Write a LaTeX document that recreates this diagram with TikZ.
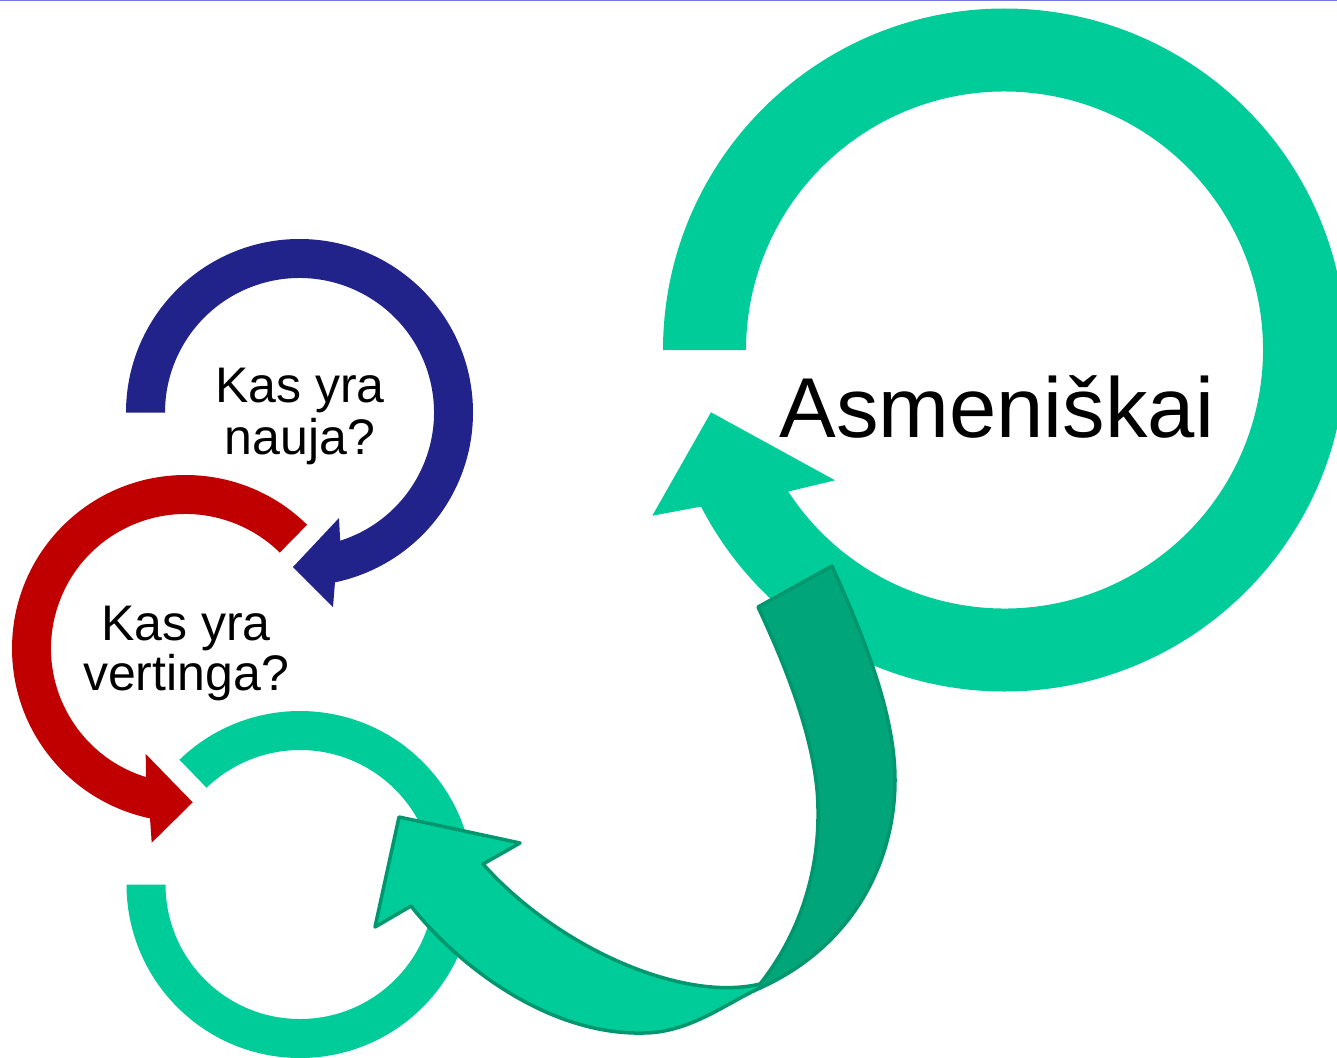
\documentclass[tikz,border=0pt]{standalone}
\usepackage{fontspec}
\setmainfont{Liberation Sans}
\usetikzlibrary{calc}
\definecolor{ablue}{RGB}{34,34,139}
\definecolor{ared}{RGB}{192,0,0}
\definecolor{agreen}{RGB}{0,204,153}
\definecolor{adark}{RGB}{0,165,121}
\definecolor{aline}{RGB}{0,150,110}
\definecolor{atop}{RGB}{120,120,225}
\begin{document}
\begin{tikzpicture}[x=1pt,y=-1pt,
  lblA/.style={font=\fontsize{50}{52}\selectfont, align=center, inner sep=0pt},
  lblB/.style={font=\fontsize{50}{50}\selectfont, align=center, inner sep=0pt},
  ribbon/.style={draw=aline, line width=3.5pt, line join=round}]
\useasboundingbox (0,0) rectangle (1337,1057);
\clip (0,0) rectangle (1337,1057);
\fill[white] (0,0) rectangle (1337,1057);
\draw[atop, line width=1.5pt] (0,0.75) -- (1337,0.75);

\coordinate (B) at (299.5,412.5);
\coordinate (R) at (185.5,648.5);
\coordinate (G) at (300,884.5);
\coordinate (C) at (1004.5,350);

% blue circular arrow
\fill[ablue] ($(B)+(180:173.5)$) arc[start angle=180, end angle=438.2, radius=173.5]
  -- (333,607) -- (293,567) -- (339,518) -- ($(B)+(432.4:134.5)$)
  arc[start angle=432.4, end angle=180, radius=134.5] -- cycle;

% red circular arrow
\fill[ared] ($(R)+(-45.5:173.5)$) arc[start angle=-45.5, end angle=-258.2, radius=173.5]
  -- (151.7,842.7) -- (192.7,802.3) -- (145.7,754) -- ($(R)+(-252.9:134.5)$)
  arc[start angle=-252.9, end angle=-45.5, radius=134.5] -- cycle;

% small green ring
\fill[agreen] ($(G)+(-134:173.5)$) arc[start angle=-134, end angle=180, radius=173.5]
  -- ($(G)+(180:134.5)$) arc[start angle=180, end angle=-134, radius=134.5] -- cycle;

% big green circular arrow
\fill[agreen] ($(C)+(180:341.5)$) arc[start angle=180, end angle=512.7, radius=341.5]
  -- (652.3,515.7) -- (711,412.3) -- (835,480.3) -- ($(C)+(506.8:258.5)$)
  arc[start angle=506.8, end angle=180, radius=258.5] -- cycle;

% curved 3D arrow: back part
\filldraw[ribbon, fill=adark] (758,607) -- (832,566)
  .. controls (870,650) and (895,720) .. (895,780)
  .. controls (895,860) and (855,945) .. (760,988)
  -- (760,984)
  .. controls (795,940) and (819,880) .. (818,810)
  .. controls (818,740) and (779,652) .. (758,607) -- cycle;

% curved 3D arrow: front part with head
\filldraw[ribbon, fill=agreen] (483,864)
  .. controls (555,945) and (680,1003) .. (760,984)
  -- (760,988)
  .. controls (728,1002) and (690,1033) .. (643,1033)
  .. controls (550,1035) and (460,968) .. (411,906)
  -- (375,927) -- (399,817) -- (520,843) -- cycle;

\node[lblA] (t1) at (300,416.4) {Kas yra\\nauja?};
\node[lblB] (t2) at (186,653.4) {Kas yra\\vertinga?};
\node[font=\fontsize{85}{90}\selectfont, anchor=base, inner sep=0pt] (t3) at (996.7,437) {Asmeniškai};
\end{tikzpicture}
\end{document}
